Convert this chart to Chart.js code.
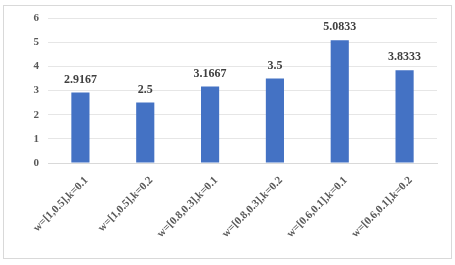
<!DOCTYPE html>
<html><head><meta charset="utf-8">
<script src="https://cdn.jsdelivr.net/npm/chart.js@4/dist/chart.umd.min.js"></script>
<style>html,body{margin:0;padding:0;background:#fff;}#wrap{width:455px;height:265px;}</style>
</head><body><div id="wrap"><canvas id="c" width="455" height="265"></canvas></div>
<script>
const categories = ["w=[1,0.5],k=0.1","w=[1,0.5],k=0.2","w=[0.8,0.3],k=0.1","w=[0.8,0.3],k=0.2","w=[0.6,0.1],k=0.1","w=[0.6,0.1],k=0.2"];
const values = [2.9167, 2.5, 3.1667, 3.5, 5.0833, 3.8333];
const valueLabels = ["2.9167","2.5","3.1667","3.5","5.0833","3.8333"];
const yTicks = [0,1,2,3,4,5,6];

const FONT = "'Liberation Serif','Times New Roman',serif";

const borderPlugin = {
  id:'border',
  beforeDraw(chart){
    const ctx=chart.ctx; ctx.save();
    ctx.fillStyle='#fff'; ctx.fillRect(0,0,chart.width,chart.height);
    ctx.strokeStyle='#d9d9d9'; ctx.lineWidth=1;
    ctx.strokeRect(3.5,5.5,448,253);
    ctx.restore();
  }
};
const labelPlugin = {
  id:'vlabels',
  afterDatasetsDraw(chart){
    const ctx=chart.ctx; ctx.save();
    ctx.font="bold 12px "+FONT; ctx.fillStyle='#404040';
    ctx.textAlign='center'; ctx.textBaseline='bottom';
    chart.getDatasetMeta(0).data.forEach((b,i)=>{ ctx.fillText(valueLabels[i], b.x, b.y-7); });
    ctx.restore();
  }
};

new Chart(document.getElementById('c'),{
  type:'bar',
  data:{labels:categories,datasets:[{data:values,backgroundColor:'#4472C4',barPercentage:0.56,categoryPercentage:0.5}]},
  options:{
    responsive:false,animation:false,
    layout:{padding:{left:0,right:18,top:18,bottom:0}},
    plugins:{legend:{display:false},tooltip:{enabled:false}},
    scales:{
      x:{
        grid:{display:false,drawTicks:false},
        border:{display:true,color:'#d9d9d9'},
        ticks:{maxRotation:45,minRotation:45,padding:11,labelOffset:6,color:'#595959',font:{family:FONT,size:11,weight:'bold'}},
        afterFit(s){s.height=102;}
      },
      y:{
        min:0,max:6,
        afterBuildTicks(s){s.ticks=yTicks.map(v=>({value:v}));},
        grid:{color:'#e6e6e6',drawTicks:false},
        border:{display:false},
        ticks:{padding:9,color:'#595959',font:{family:FONT,size:11,weight:'bold'}},
        afterFit(s){s.width=48;}
      }
    }
  },
  plugins:[borderPlugin,labelPlugin]
});
</script></body></html>
